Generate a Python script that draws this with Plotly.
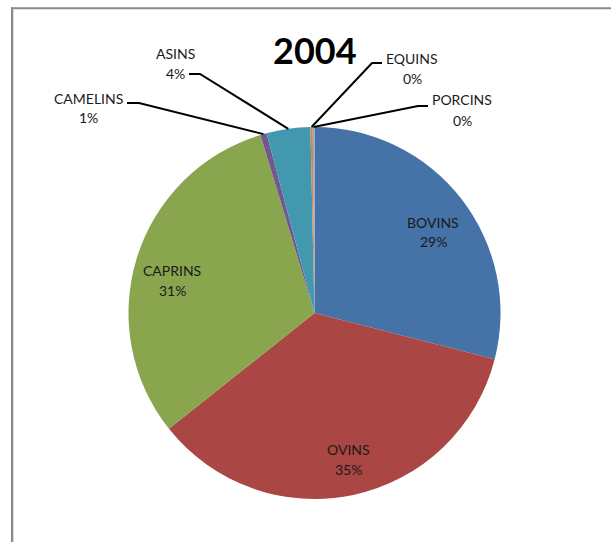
import math
import plotly.graph_objects as go

# Livestock shares, 2004 (percent of total herd)
categories = ["BOVINS", "OVINS", "CAPRINS", "CAMELINS", "ASINS", "EQUINS", "PORCINS"]
shares = [29.0, 35.3, 31.0, 0.55, 3.8, 0.2, 0.15]
colors = ["#4572A7", "#AA4643", "#89A54E", "#71588F", "#4198AF", "#DB843D", "#93A9CF"]
title_text = "2004"

W, H = 611, 542
CX, CY, R = 314.5, 313.0, 186.0   # pie centre / radius in pixels (y from top)


def px(x):
    return x / W


def py(y):
    return 1 - y / H


# label placement (pixel centres of the name line) -- inside labels
inside_pos = {"BOVINS": (433, 222), "OVINS": (348, 449), "CAPRINS": (172, 270)}
# outside labels: name centre, and the elbow of the leader line (start, bend)
outside_pos = {
    "CAMELINS": ((88, 98), (127, 103), (139, 103)),
    "ASINS": ((175, 53), (189, 74), (200, 74)),
    "EQUINS": ((412, 58), (382, 63), (372, 63)),
    "PORCINS": ((462, 100), (428, 106), (418, 106)),
}
LINE_GAP = 20

fig = go.Figure(
    go.Pie(
        labels=categories,
        values=shares,
        sort=False,
        direction="clockwise",
        rotation=0,
        marker=dict(colors=colors, line=dict(width=0)),
        textinfo="none",
        showlegend=False,
        domain=dict(x=[px(CX - R), px(CX + R)], y=[py(CY + R), py(CY - R)]),
    )
)

total = sum(shares)
font = dict(family="Lato, 'Open Sans', sans-serif", size=14, color="#1a1a1a")
annotations = []
shapes = []
cum = 0.0
for name, v in zip(categories, shares):
    frac = v / total
    mid = (cum + frac / 2) * 2 * math.pi
    cum += frac
    pct = f"{round(frac * 100):.0f}%"
    if name in inside_pos:
        x, y = inside_pos[name]
    else:
        (x, y), start, bend = outside_pos[name]
        ex = CX + R * math.sin(mid)
        ey = CY - R * math.cos(mid)
        pts = [start, bend, (ex, ey)]
        path = "M " + " L ".join(f"{px(a):.5f},{py(b):.5f}" for a, b in pts)
        shapes.append(dict(type="path", xref="paper", yref="paper", path=path,
                           line=dict(color="black", width=2)))
    annotations.append(dict(x=px(x), y=py(y), xref="paper", yref="paper", text=name,
                            showarrow=False, font=font, xanchor="center", yanchor="middle"))
    annotations.append(dict(x=px(x), y=py(y + LINE_GAP), xref="paper", yref="paper", text=pct,
                            showarrow=False, font=font, xanchor="center", yanchor="middle"))

annotations.append(dict(x=px(CX), y=py(50), xref="paper", yref="paper", text=f"<b>{title_text}</b>",
                        showarrow=False, xanchor="center", yanchor="middle",
                        font=dict(family="Lato, 'Open Sans', sans-serif", size=36, color="black")))

# chart area frame (top and left edges)
shapes.append(dict(type="line", xref="paper", yref="paper", x0=px(11), x1=1, y0=py(8.2), y1=py(8.2),
                   line=dict(color="#8a8a8a", width=2)))
shapes.append(dict(type="line", xref="paper", yref="paper", x0=px(12), x1=px(12), y0=py(7.2), y1=0,
                   line=dict(color="#8a8a8a", width=2)))
shapes.append(dict(type="line", xref="paper", yref="paper", x0=px(13.5), x1=px(13.5), y0=py(9.5), y1=0,
                   line=dict(color="#dcdcdc", width=1)))

fig.update_layout(
    width=W, height=H,
    margin=dict(l=0, r=0, t=0, b=0),
    paper_bgcolor="white", plot_bgcolor="white",
    annotations=annotations, shapes=shapes,
)

fig.write_html("out.html")
